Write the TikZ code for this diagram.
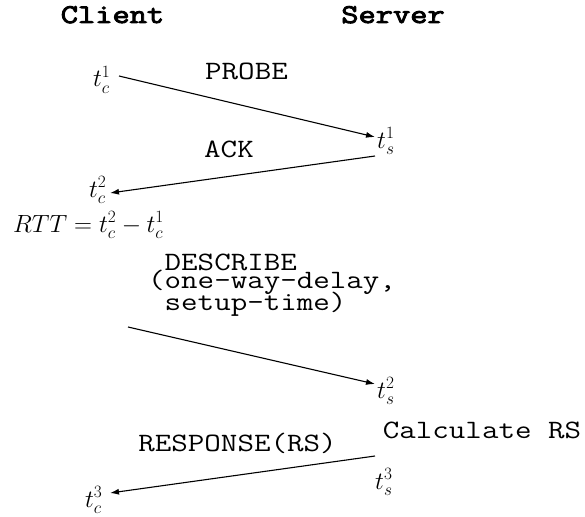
\documentclass[tikz,border=0pt]{standalone}
\usepackage{fontspec}
\newfontfamily\msgfont{Latin Modern Mono}[FakeStretch=1.21]
\newfontfamily\headfont{Latin Modern Mono}[FakeStretch=1.24,FakeBold=3.5]
\usetikzlibrary{arrows.meta,calc}
\DeclareMathSizes{24.88}{24.88}{17.28}{14.4}
\tikzset{
  px/.style={x=1pt,y=-1pt},
  tt/.style={inner sep=0pt,anchor=base,font=\fontsize{26.5}{30}\selectfont\msgfont},
  ttl/.style={tt,anchor=base west},
  head/.style={inner sep=0pt,anchor=base,font=\fontsize{27}{30}\selectfont\headfont},
  tm/.style={inner sep=0pt,anchor=base west,font=\fontsize{24.88}{30}\selectfont},
  msg/.style={line width=1.1pt,-{Latex[length=9pt,width=6pt]}}
}
\newcommand{\onecol}{\hphantom{x}}
\begin{document}
\begin{tikzpicture}[px]
\useasboundingbox (0,0) rectangle (585,516);

% column headings
\node[head] (client) at (112.5,23) {Client};
\node[head] (server) at (393,23) {Server};

% time stamps
\node[tm] (tc1) at (93,87)  {$t_c^1$};
\node[tm] (ts1) at (377,148) {$t_s^1$};
\node[tm] (tc2) at (89,197) {$t_c^2$};
\node[tm] (rtt) at (13,232) {$RTT = t_c^2 - t_c^1$};
\node[tm] (ts2) at (377,398) {$t_s^2$};
\node[tm] (ts3) at (375,489) {$t_s^3$};
\node[tm] (tc3) at (85,507) {$t_c^3$};

% message labels
\node[tt] (probe) at (246.5,80) {PROBE};
\node[tt] (ack) at (229,157) {ACK};
\node[ttl] (desc1) at (148,270) {\onecol DESCRIBE};
\node[ttl] (desc2) at (148,288) {(one-way-delay,};
\node[ttl] (desc3) at (148,310) {\onecol setup-time)};
\node[tt] (calc) at (482,438) {Calculate RS};
\node[tt] (resp) at (237.5,451) {RESPONSE(RS)};

\coordinate (dstart) at (128,327);

% messages
\draw[msg] ($(tc1.base west)+(26,-11)$) -- ($(ts1.base west)+(-2,-11)$);
\draw[msg] ($(ts1.base west)+(-2,8)$) -- ($(tc2.base west)+(21,-4)$);
\draw[msg] (dstart) -- ($(ts2.base west)+(-2,-14)$);
\draw[msg] ($(ts3.base west)+(0,-33)$) -- ($(tc3.base west)+(25,-14)$);
\end{tikzpicture}
\end{document}
